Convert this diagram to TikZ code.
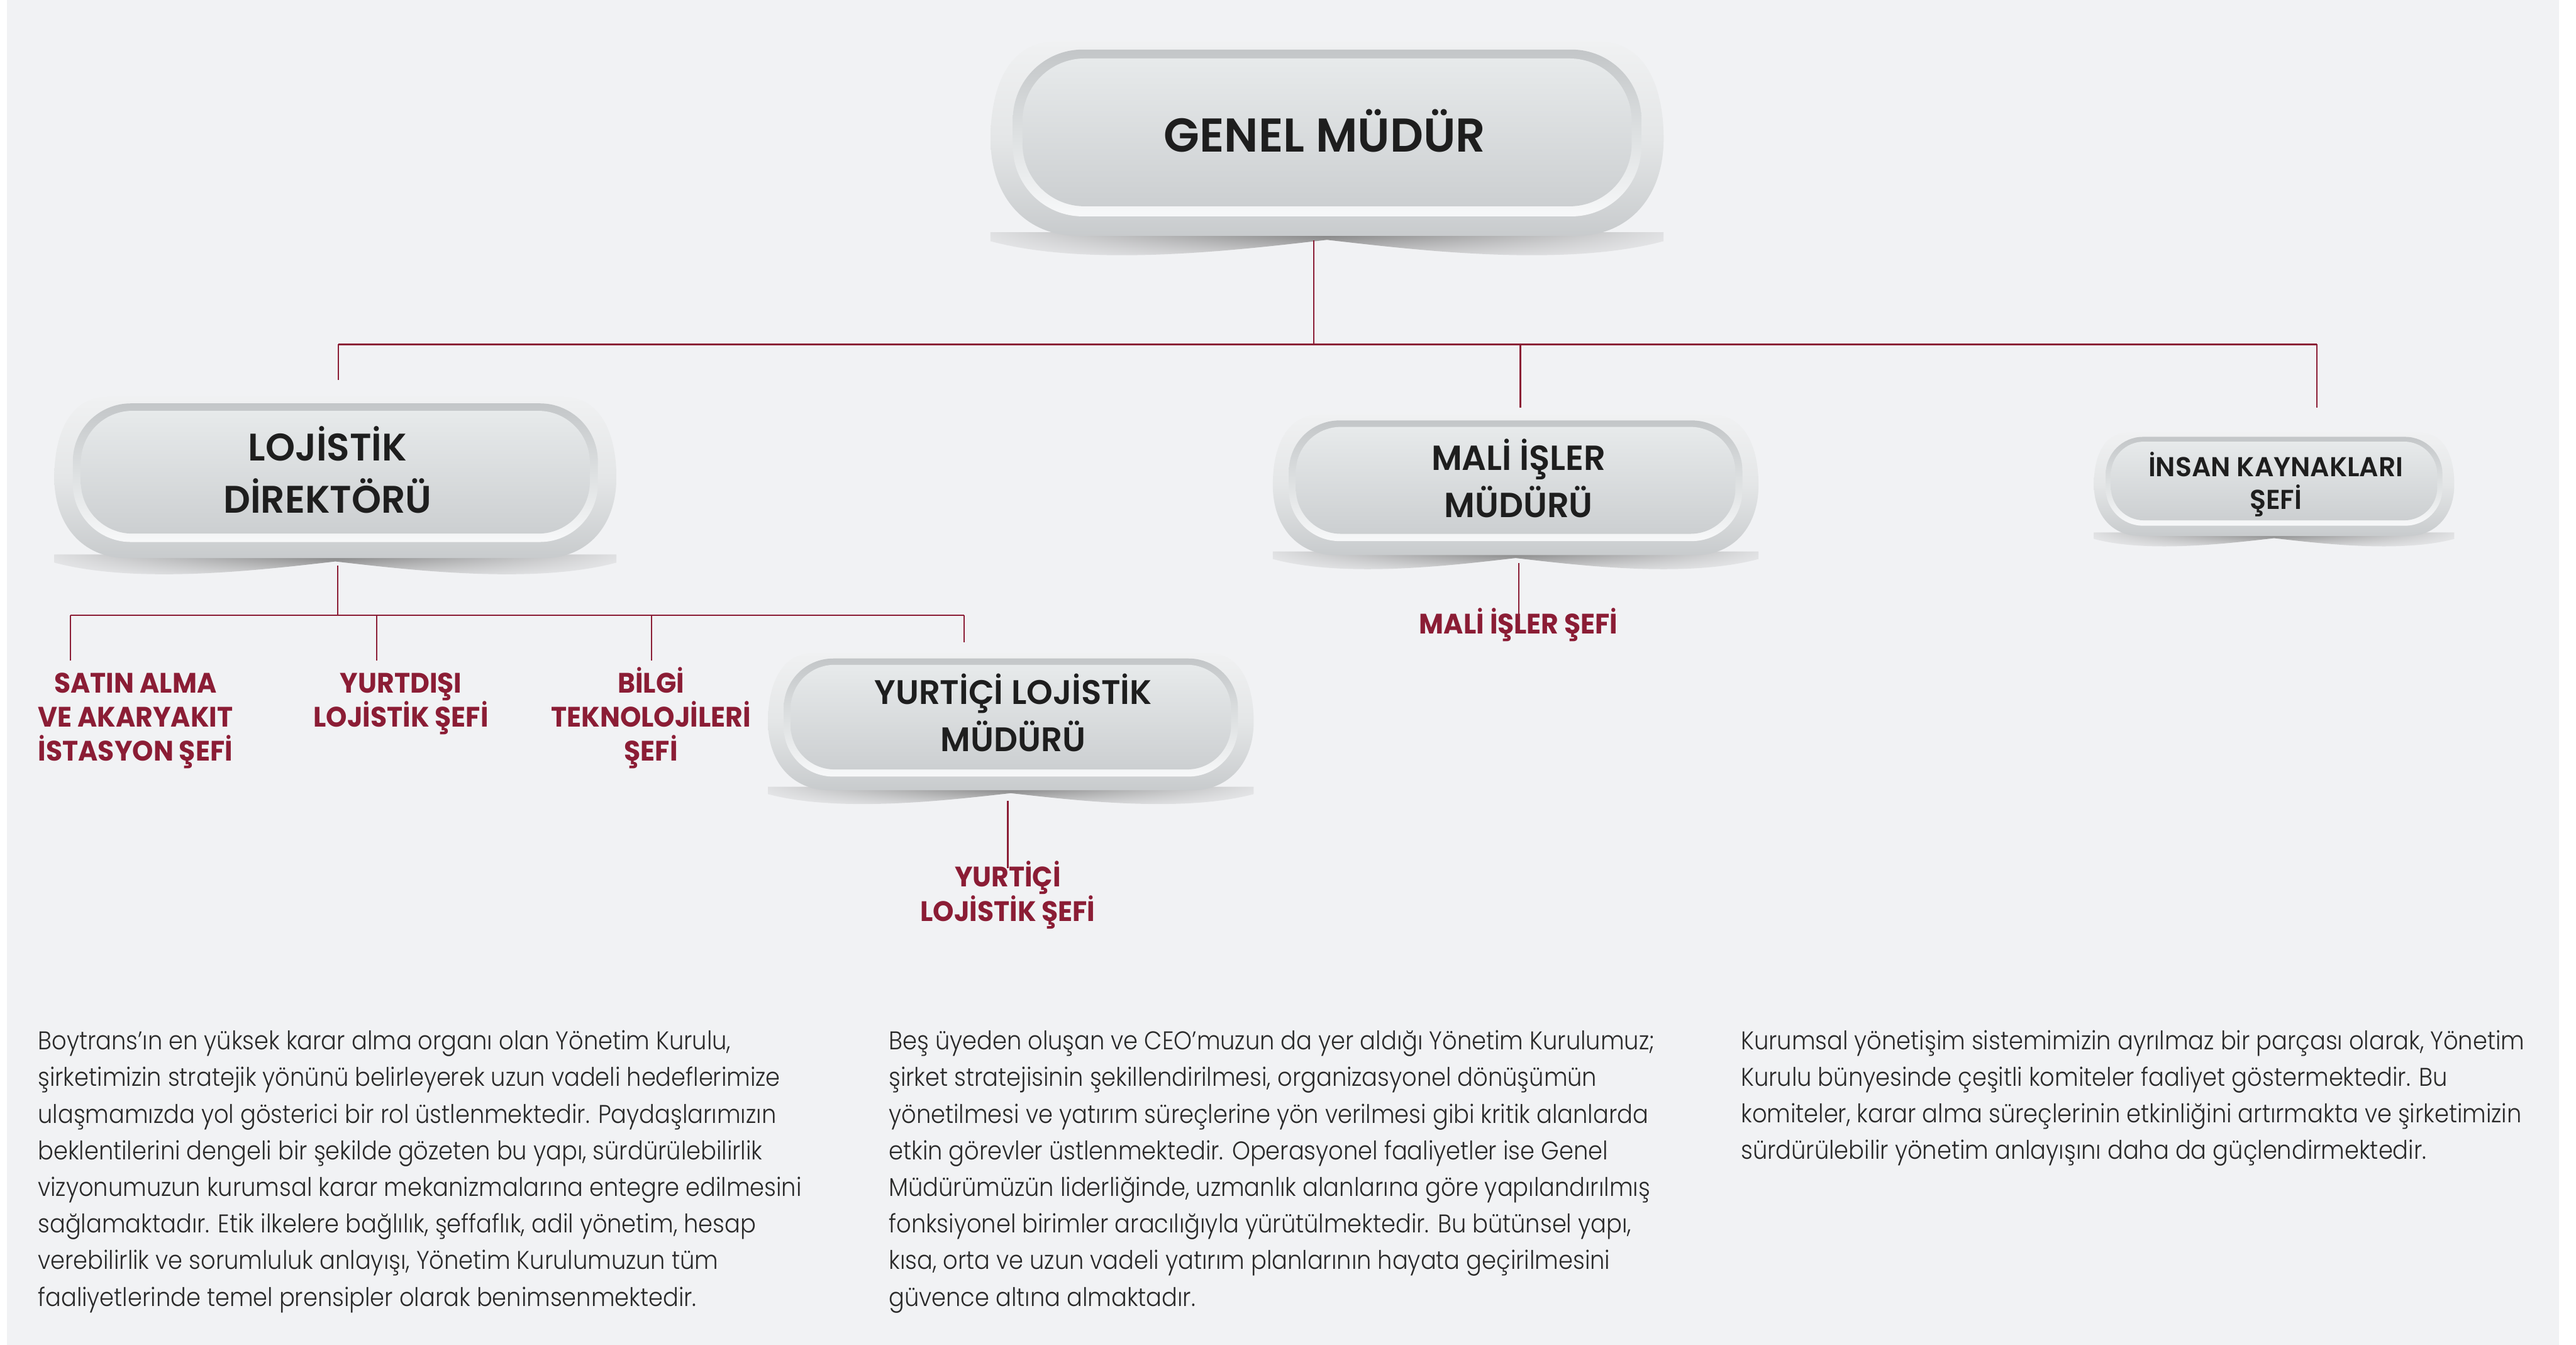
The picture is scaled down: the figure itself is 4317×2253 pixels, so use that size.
\documentclass[tikz,border=0pt]{standalone}
\usepackage{fontspec}
\setmainfont{Poppins}
\newfontfamily\hdfont{Poppins SemiBold}[FakeStretch=0.98]
\newfontfamily\rdfont{Poppins}[FakeStretch=0.95]
\newfontfamily\bdfont{Poppins Light}[FakeStretch=0.904]
\usetikzlibrary{calc,fadings}
\definecolor{bgc}{HTML}{F1F2F4}
\definecolor{shadowc}{HTML}{7E7E7E}
\definecolor{bodytop}{HTML}{F0F1F2}
\definecolor{bodymid}{HTML}{E4E6E7}
\definecolor{bodybot}{HTML}{C8CBCD}
\definecolor{ringtop}{HTML}{C3C6C8}
\definecolor{ringmid}{HTML}{DDE0E1}
\definecolor{ringbot}{HTML}{F7F8F9}
\definecolor{facetop}{HTML}{E7EAEB}
\definecolor{facebot}{HTML}{CCCFD1}
\definecolor{redc}{HTML}{8B1D35}
\definecolor{inkc}{HTML}{1E1E1E}
\definecolor{bodyc}{HTML}{2A2A2A}
\tikzfading[name=fadesides, left color=transparent!85, right color=transparent!85, middle color=transparent!0]
\tikzset{
 pics/pillshape/.style 2 args={code={
  \pgfmathsetmacro\qW{#1/2}
  \pgfmathsetmacro\qH{#2/2}
  \pgfmathsetmacro\qta{0.33*#2}
  \pgfmathsetmacro\qba{0.45*#2}
  \pgfmathsetmacro\qsd{0.14*#2}
  \pgfmathsetmacro\qri{0.115*#2}
  \pgfmathsetmacro\qrt{0.04*#2}
  \pgfmathsetmacro\qrb{0.10*#2}
  \pgfmathsetmacro\qrr{0.0036*#2}
  \pgfmathsetmacro\qfx{0.165*#2}
  \pgfmathsetmacro\qft{0.086*#2}
  \pgfmathsetmacro\qfb{0.152*#2}
  \pgfmathsetmacro\qfr{0.0032*#2}
  \shade[top color=shadowc, bottom color=bgc, path fading=fadesides]
    (-\qW,\qH-6) -- (\qW,\qH-6) -- (\qW,\qH+0.2*\qsd)
    .. controls (0.7*\qW,\qH+1.2*\qsd) and (0.25*\qW,\qH+0.5*\qsd) .. (0,\qH+0.15*\qsd)
    .. controls (-0.25*\qW,\qH+0.5*\qsd) and (-0.7*\qW,\qH+1.2*\qsd) .. (-\qW,\qH+0.2*\qsd) -- cycle;
  \shade[top color=bodytop, bottom color=bodybot, middle color=bodymid]
    (-\qW+\qta,-\qH) -- (\qW-\qta,-\qH)
    .. controls (\qW-0.3*\qta,-\qH) and (\qW,-0.55*\qH) .. (\qW,0)
    .. controls (\qW,0.6*\qH) and (\qW-0.4*\qba,\qH) .. (\qW-\qba,\qH)
    -- (-\qW+\qba,\qH)
    .. controls (-\qW+0.4*\qba,\qH) and (-\qW,0.6*\qH) .. (-\qW,0)
    .. controls (-\qW,-0.55*\qH) and (-\qW+0.3*\qta,-\qH) .. cycle;
  \shade[top color=ringtop, bottom color=ringbot, middle color=ringmid, rounded corners=\qrr cm]
    (-\qW+\qri,-\qH+\qrt) rectangle (\qW-\qri,\qH-\qrb);
  \shade[top color=facetop, bottom color=facebot, rounded corners=\qfr cm]
    (-\qW+\qfx,-\qH+\qft) rectangle (\qW-\qfx,\qH-\qfb);
 }}
}
\begin{document}
\begin{tikzpicture}[x=0.01cm,y=-0.01cm,
  conn/.style={draw=redc, line width=0.025cm},
  hd/.style={text=inkc, inner sep=0pt, align=center},
  rd/.style={text=redc, inner sep=0pt, align=center, font=\rdfont\bfseries\fontsize{13.4}{16.2}\selectfont},
  body/.style={text=bodyc, inner sep=0pt, align=left, font=\bdfont\fontsize{12.2}{17.44}\selectfont},
  pillbox/.style={inner sep=0pt, draw=none}]
\useasboundingbox (0,0) rectangle (4317,2253);
\fill[white] (0,0) rectangle (4317,2253);
\fill[bgc] (12,0) rectangle (4289,2253);

% pill frames (named)
\node[pillbox, minimum width=11.28cm, minimum height=3.25cm] (gm) at (2224,232.5) {};
\node[pillbox, minimum width=9.42cm, minimum height=2.70cm] (loj) at (562,800) {};
\node[pillbox, minimum width=8.14cm, minimum height=2.30cm] (yil) at (1694,1209) {};
\node[pillbox, minimum width=8.14cm, minimum height=2.35cm] (mali) at (2540,812.5) {};
\node[pillbox, minimum width=6.04cm, minimum height=1.73cm] (ik) at (3811,811.5) {};

% red labels (anchor = baseline of last line)
\node[rd, anchor=base] (satin) at (227,1275) {SATIN ALMA\\VE AKARYAKIT\\İSTASYON ŞEFİ};
\node[rd, anchor=base] (ydis) at (672,1218) {YURTDIŞI\\LOJİSTİK ŞEFİ};
\node[rd, anchor=base] (bilgi) at (1091,1275) {BİLGİ\\TEKNOLOJİLERİ\\ŞEFİ};
\node[rd, anchor=base] (yisef) at (1689,1543) {YURTİÇİ\\LOJİSTİK ŞEFİ};
\node[rd, anchor=base] (malisef) at (2545,1062) {MALİ İŞLER ŞEFİ};

% pill drawings
\pic at (gm) {pillshape={1128}{325}};
\pic at (loj) {pillshape={942}{270}};
\pic at (yil) {pillshape={814}{230}};
\pic at (mali) {pillshape={814}{235}};
\pic at (ik) {pillshape={604}{173}};

% connectors
\coordinate (bL) at (567,577);
\coordinate (bR) at (3883,577);
\coordinate (bG) at (2202,577);
\coordinate (bM) at (2548,577);
\draw[conn] ($(gm.south -| bG)+(0,7)$) -- (bG);
\draw[conn] (bL) -- (bR);
\draw[conn] (bL) -- ++(0,60);
\draw[conn] (bM) -- ++(0,106);
\draw[conn] (bR) -- ++(0,106);
\coordinate (sC) at (566,1031);
\coordinate (sL) at (118,1031);
\coordinate (s2) at (631,1031);
\coordinate (s3) at (1092,1031);
\coordinate (sR) at (1616,1031);
\draw[conn] ($(loj.south -| sC)+(0,12)$) -- (sC);
\draw[conn] (sL) -- (sR);
\draw[conn] (sL) -- ++(0,76);
\draw[conn] (s2) -- ++(0,76);
\draw[conn] (s3) -- ++(0,76);
\draw[conn] (sR) -- ++(0,45);
\draw[conn] (yisef.north) ++(0,12) -- ($(yisef.north |- yil.south)+(0,17)$);
\draw[conn] (malisef.north) ++(0,12) -- ($(malisef.north |- mali.south)+(0,13)$);

% pill texts (anchor = baseline of last line)
\node[hd, anchor=base, font=\hdfont\fontsize{22.6}{28}\selectfont] (gmt) at (2220,254) {GENEL MÜDÜR};
\node[hd, anchor=base, font=\hdfont\fontsize{18.3}{25}\selectfont] (lojt) at (549,860) {LOJİSTİK\\DİREKTÖRÜ};
\node[hd, anchor=base, font=\hdfont\fontsize{16.2}{22.5}\selectfont] (yilt) at (1698,1259) {YURTİÇİ LOJİSTİK\\MÜDÜRÜ};
\node[hd, anchor=base, font=\hdfont\fontsize{16.6}{22.5}\selectfont] (malit) at (2545,867) {MALİ İŞLER\\MÜDÜRÜ};
\node[hd, anchor=base, font=\hdfont\fontsize{13.0}{15.4}\selectfont] (ikt) at (3814,853) {İNSAN KAYNAKLARI\\ŞEFİ};

% paragraphs (anchor = baseline of last line)
\node[body, anchor=base west] (p1) at (63,2188) {Boytrans’ın en yüksek karar alma organı olan Yönetim Kurulu,\\
şirketimizin stratejik yönünü belirleyerek uzun vadeli hedeflerimize\\
ulaşmamızda yol gösterici bir rol üstlenmektedir. Paydaşlarımızın\\
beklentilerini dengeli bir şekilde gözeten bu yapı, sürdürülebilirlik\\
vizyonumuzun kurumsal karar mekanizmalarına entegre edilmesini\\
sağlamaktadır. Etik ilkelere bağlılık, şeffaflık, adil yönetim, hesap\\
verebilirlik ve sorumluluk anlayışı, Yönetim Kurulumuzun tüm\\
faaliyetlerinde temel prensipler olarak benimsenmektedir.};
\node[body, anchor=base west] (p2) at (1489,2188) {Beş üyeden oluşan ve CEO’muzun da yer aldığı Yönetim Kurulumuz;\\
şirket stratejisinin şekillendirilmesi, organizasyonel dönüşümün\\
yönetilmesi ve yatırım süreçlerine yön verilmesi gibi kritik alanlarda\\
etkin görevler üstlenmektedir. Operasyonel faaliyetler ise Genel\\
Müdürümüzün liderliğinde, uzmanlık alanlarına göre yapılandırılmış\\
fonksiyonel birimler aracılığıyla yürütülmektedir. Bu bütünsel yapı,\\
kısa, orta ve uzun vadeli yatırım planlarının hayata geçirilmesini\\
güvence altına almaktadır.};
\node[body, anchor=base west] (p3) at (2917,1942) {Kurumsal yönetişim sistemimizin ayrılmaz bir parçası olarak, Yönetim\\
Kurulu bünyesinde çeşitli komiteler faaliyet göstermektedir. Bu\\
komiteler, karar alma süreçlerinin etkinliğini artırmakta ve şirketimizin\\
sürdürülebilir yönetim anlayışını daha da güçlendirmektedir.};
\end{tikzpicture}
\end{document}
